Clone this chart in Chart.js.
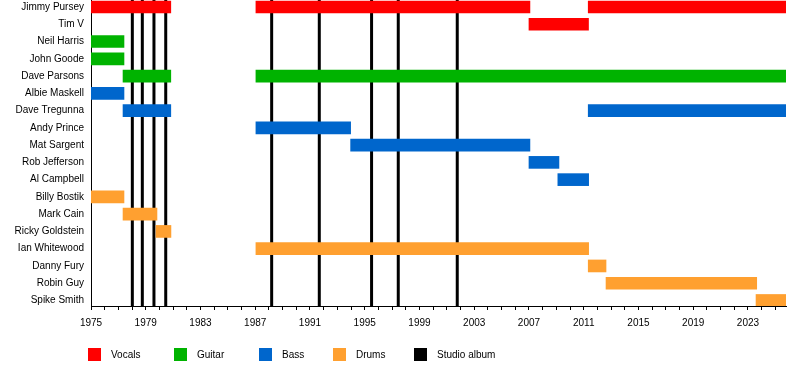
<!DOCTYPE html>
<html>
<head>
<meta charset="utf-8">
<script src="https://cdn.jsdelivr.net/npm/chart.js@4/dist/chart.umd.min.js"></script>
<style>
  body { margin: 0; background: #fff; }
  #wrap { position: relative; width: 800px; height: 366px; }
  #legend { position: absolute; left: 0; top: 348px; width: 800px; height: 14px;
    font: 10px "Liberation Sans", Arial, sans-serif; color: #000; }
  .item { position: absolute; top: 0; display: flex; align-items: center; }
  .box { width: 13px; height: 13px; margin-right: 10px; }
</style>
</head>
<body>
<div id="wrap">
  <canvas id="timeline" width="800" height="366"></canvas>
  <div id="legend"></div>
</div>
<script>
// Band members, top to bottom
const members = [
  'Jimmy Pursey', 'Tim V', 'Neil Harris', 'John Goode', 'Dave Parsons',
  'Albie Maskell', 'Dave Tregunna', 'Andy Prince', 'Mat Sargent', 'Rob Jefferson',
  'Al Campbell', 'Billy Bostik', 'Mark Cain', 'Ricky Goldstein', 'Ian Whitewood',
  'Danny Fury', 'Robin Guy', 'Spike Smith'
];

const startYear = 1975;
const endYear = 2025.78;

// [member, from, to] in decimal years
const vocalsSpans = [
  ['Jimmy Pursey', 1975.0, 1980.83],
  ['Jimmy Pursey', 1987.05, 2007.07],
  ['Jimmy Pursey', 2011.33, endYear],
  ['Tim V', 2007.0, 2011.35]
];
const guitarSpans = [
  ['Neil Harris', 1975.0, 1977.41],
  ['John Goode', 1975.0, 1977.41],
  ['Dave Parsons', 1977.34, 1980.83],
  ['Dave Parsons', 1987.05, endYear]
];
const bassSpans = [
  ['Albie Maskell', 1975.0, 1977.41],
  ['Dave Tregunna', 1977.34, 1980.83],
  ['Dave Tregunna', 2011.33, endYear],
  ['Andy Prince', 1987.05, 1993.97],
  ['Mat Sargent', 1993.97, 2007.07],
  ['Rob Jefferson', 2007.0, 2009.19],
  ['Al Campbell', 2009.11, 2011.36]
];
const drumsSpans = [
  ['Billy Bostik', 1975.0, 1977.41],
  ['Mark Cain', 1977.34, 1979.82],
  ['Ricky Goldstein', 1979.75, 1980.84],
  ['Ian Whitewood', 1987.05, 2011.36],
  ['Danny Fury', 2011.33, 2012.63],
  ['Robin Guy', 2012.63, 2023.64],
  ['Spike Smith', 2023.59, endYear]
];

// Studio album release dates
const albumYears = [1978.02, 1978.75, 1979.6, 1980.46, 1988.2, 1991.68, 1995.5, 1997.45, 2001.76];

const roles = ['Vocals', 'Guitar', 'Bass', 'Drums'];
const roleColors = ['#ff0000', '#00b300', '#0066cc', '#ffa030'];
const roleSpans = [vocalsSpans, guitarSpans, bassSpans, drumsSpans];

const FONT = '"Liberation Sans", Arial, sans-serif';

const datasets = roles.map((role, i) => ({
  label: role,
  data: roleSpans[i].map(([name, from, to]) => ({ x: [from, to], y: members.indexOf(name) })),
  backgroundColor: roleColors[i],
  borderWidth: 0,
  barThickness: 12,
  stack: 'all'
}));

// vertical lines for album releases, behind the bars
const albumLines = {
  id: 'albumLines',
  beforeDatasetsDraw(chart) {
    const { ctx, chartArea, scales: { x } } = chart;
    ctx.save();
    ctx.strokeStyle = '#000';
    ctx.lineWidth = 3;
    albumYears.forEach(yr => {
      const px = x.getPixelForValue(yr);
      ctx.beginPath();
      ctx.moveTo(px, chartArea.top);
      ctx.lineTo(px, chartArea.bottom);
      ctx.stroke();
    });
    ctx.restore();
  }
};

new Chart(document.getElementById('timeline'), {
  type: 'bar',
  data: { datasets },
  options: {
    indexAxis: 'y',
    responsive: false,
    animation: false,
    layout: { padding: { left: 0, right: 14, top: 0, bottom: 0 } },
    plugins: { legend: { display: false }, tooltip: { enabled: false } },
    scales: {
      x: {
        type: 'linear',
        min: startYear,
        max: endYear,
        stacked: false,
        grid: { drawOnChartArea: false, drawTicks: true, tickLength: 4, color: '#000' },
        border: { display: true, color: '#000', width: 1 },
        ticks: {
          stepSize: 1,
          includeBounds: false,
          autoSkip: false,
          maxRotation: 0,
          padding: 7,
          color: '#000',
          font: { family: FONT, size: 10 },
          callback: v => ((v - startYear) % 4 === 0 ? String(v) : '')
        },
        afterFit: s => { s.height = 60; }
      },
      y: {
        type: 'linear',
        reverse: true,
        offset: false,
        min: -0.406,
        max: 17.32,
        grid: { display: true, drawOnChartArea: false, drawTicks: false },
        border: { display: true, color: '#000', width: 1 },
        ticks: {
          stepSize: 1,
          includeBounds: false,
          autoSkip: false,
          padding: 7,
          color: '#000',
          font: { family: FONT, size: 10 },
          callback: v => members[v] ?? ''
        },
        afterFit: s => { s.width = 91; s.paddingTop = 0; s.paddingBottom = 0; }
      }
    }
  },
  plugins: [albumLines]
});

// legend below the chart
const legendLabels = ['Vocals', 'Guitar', 'Bass', 'Drums', 'Studio album'];
const legendColors = ['#ff0000', '#00b300', '#0066cc', '#ffa030', '#000000'];
const legendLeft = [88, 174, 259, 333, 414];
const legend = document.getElementById('legend');
legendLabels.forEach((txt, i) => {
  const item = document.createElement('div');
  item.className = 'item';
  item.style.left = legendLeft[i] + 'px';
  const box = document.createElement('span');
  box.className = 'box';
  box.style.background = legendColors[i];
  const label = document.createElement('span');
  label.textContent = txt;
  item.appendChild(box);
  item.appendChild(label);
  legend.appendChild(item);
});
</script>
</body>
</html>
